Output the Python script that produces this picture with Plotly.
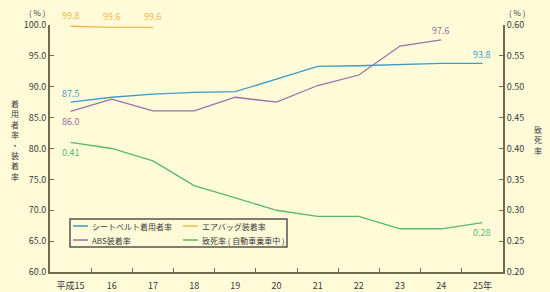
import plotly.graph_objects as go

years = ["平成15", "16", "17", "18", "19", "20", "21", "22", "23", "24", "25年"]
seatbelt = [87.5, 88.3, 88.8, 89.1, 89.2, 91.3, 93.3, 93.4, 93.6, 93.8, 93.8]
airbag = [99.8, 99.6, 99.6]
abs_rate = [86.0, 88.0, 86.1, 86.1, 88.3, 87.5, 90.2, 91.9, 96.6, 97.6]
fatality = [0.41, 0.40, 0.38, 0.34, 0.32, 0.30, 0.29, 0.29, 0.27, 0.27, 0.28]

names = ["シートベルト着用者率", "エアバッグ装着率", "ABS装着率", "致死率 ( 自動車乗車中 )"]
colors = ["#3d9cc6", "#f5b848", "#9a70a8", "#58b96c"]

FONT = "Noto Sans CJK JP"
BG = "#fffad8"
AX = "#716a4e"
TXT = "#3a3a3a"

# plot area in pixels (for converting to paper coords)
L, R, T, B = 50, 503, 25, 272
def px(xp):
    return (xp - L) / (R - L)
def py(yp):
    return (B - yp) / (B - T)

fig = go.Figure()
fig.add_trace(go.Scatter(x=list(range(len(seatbelt))), y=seatbelt, mode="lines", name=names[0],
                         line=dict(color=colors[0], width=1.3), showlegend=False))
fig.add_trace(go.Scatter(x=list(range(len(airbag))), y=airbag, mode="lines", name=names[1],
                         line=dict(color=colors[1], width=1.3), showlegend=False))
fig.add_trace(go.Scatter(x=list(range(len(abs_rate))), y=abs_rate, mode="lines", name=names[2],
                         line=dict(color=colors[2], width=1.3), showlegend=False))
fig.add_trace(go.Scatter(x=list(range(len(fatality))), y=fatality, mode="lines", name=names[3],
                         line=dict(color=colors[3], width=1.3), yaxis="y2", showlegend=False))

def lab_font(c):
    return dict(family=FONT, size=9, color=c)

ann = []
# data labels
ann.append(dict(x=0, y=seatbelt[0], text=f"{seatbelt[0]:.1f}", xref="x", yref="y",
                showarrow=False, yshift=9, font=lab_font(colors[0])))
ann.append(dict(x=len(seatbelt) - 1, y=seatbelt[-1], text=f"{seatbelt[-1]:.1f}", xref="x", yref="y",
                showarrow=False, yshift=9, font=lab_font(colors[0])))
for i, v in enumerate(airbag):
    ann.append(dict(x=i, y=v, text=f"{v:.1f}", xref="x", yref="y",
                    showarrow=False, yshift=11, font=lab_font(colors[1])))
ann.append(dict(x=0, y=abs_rate[0], text=f"{abs_rate[0]:.1f}", xref="x", yref="y",
                showarrow=False, yshift=-10, font=lab_font(colors[2])))
ann.append(dict(x=len(abs_rate) - 1, y=abs_rate[-1], text=f"{abs_rate[-1]:.1f}", xref="x", yref="y",
                showarrow=False, yshift=9, font=lab_font(colors[2])))
ann.append(dict(x=0, y=fatality[0], text=f"{fatality[0]:.2f}", xref="x", yref="y2",
                showarrow=False, yshift=-10, font=lab_font(colors[3])))
ann.append(dict(x=len(fatality) - 1, y=fatality[-1], text=f"{fatality[-1]:.2f}", xref="x", yref="y2",
                showarrow=False, yshift=-10, font=lab_font(colors[3])))
# unit labels
ann.append(dict(x=px(37), y=py(12), xref="paper", yref="paper", text="( % )", showarrow=False,
                xanchor="center", yanchor="middle", font=dict(family=FONT, size=8, color=TXT)))
ann.append(dict(x=px(517), y=py(12), xref="paper", yref="paper", text="( % )", showarrow=False,
                xanchor="center", yanchor="middle", font=dict(family=FONT, size=8, color=TXT)))
# axis titles (vertical)
ann.append(dict(x=px(15), y=py(140), xref="paper", yref="paper", text="<br>".join("着用者率・装着率"),
                showarrow=False, xanchor="center", yanchor="middle",
                font=dict(family=FONT, size=8, color=TXT), align="center"))
ann.append(dict(x=px(538), y=py(140), xref="paper", yref="paper", text="<br>".join("致死率"),
                showarrow=False, xanchor="center", yanchor="middle",
                font=dict(family=FONT, size=8, color=TXT), align="center"))

# manual legend (two columns)
shapes = [dict(type="rect", xref="paper", yref="paper", x0=px(70), x1=px(287), y0=py(247), y1=py(219),
               line=dict(color="#555", width=1.5), fillcolor="rgba(0,0,0,0)")]
leg_pos = [(73, 226), (183, 226), (73, 240), (183, 240)]
for (lx, ly), name, c in zip(leg_pos, names, colors):
    shapes.append(dict(type="line", xref="paper", yref="paper", x0=px(lx), x1=px(lx + 15),
                       y0=py(ly), y1=py(ly), line=dict(color=c, width=1.5)))
    ann.append(dict(x=px(lx + 17), y=py(ly), xref="paper", yref="paper", text=name, showarrow=False,
                    xanchor="left", yanchor="middle", font=dict(family=FONT, size=8, color=TXT)))

fig.update_layout(
    width=550, height=292,
    margin=dict(l=L, r=550 - R, t=T, b=292 - B, autoexpand=False),
    paper_bgcolor=BG, plot_bgcolor=BG,
    font=dict(family=FONT, size=10, color=TXT),
    annotations=ann,
    shapes=shapes,
    xaxis=dict(range=[-0.5, 10.5], tickvals=list(range(len(years))), ticktext=years,
               showline=True, linecolor=AX, linewidth=2, automargin=False,
               ticks="", showgrid=False, zeroline=False, ticklabelstandoff=4,
               minor=dict(tickvals=[i + 0.5 for i in range(len(years) - 1)], ticks="inside",
                          ticklen=4, tickcolor=AX, tickwidth=1),
               tickfont=dict(family=FONT, size=9, color=TXT)),
    yaxis=dict(range=[60, 100], dtick=5, tickformat=".1f", showline=True, linecolor=AX,
               linewidth=2, ticks="inside", ticklen=4, tickcolor=AX, showgrid=False,
               zeroline=False, automargin=False, tickfont=dict(family=FONT, size=9, color=TXT)),
    yaxis2=dict(range=[0.2, 0.6], dtick=0.05, tickformat=".2f", overlaying="y", side="right",
                showline=True, linecolor=AX, linewidth=2, ticks="inside", ticklen=4,
                tickcolor=AX, showgrid=False, zeroline=False, automargin=False,
                tickfont=dict(family=FONT, size=9, color=TXT)),
)

fig.write_html("out.html")
